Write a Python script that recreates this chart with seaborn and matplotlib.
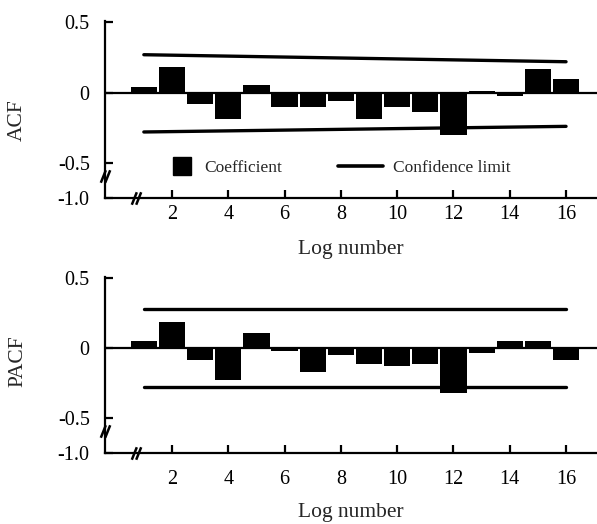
import numpy as np
import pandas as pd
import matplotlib
matplotlib.use("Agg")
import matplotlib.pyplot as plt
from matplotlib.lines import Line2D
from matplotlib.path import Path
from matplotlib.legend_handler import HandlerLine2D
import seaborn as sns

# ---- data ----
lags = [1, 2, 3, 4, 5, 6, 7, 8, 9, 10, 11, 12, 13, 14, 15, 16]
acf = [0.04, 0.18, -0.08, -0.19, 0.055, -0.10, -0.10, -0.06, -0.19, -0.10,
       -0.14, -0.30, 0.015, -0.025, 0.17, 0.10]
pacf = [0.05, 0.19, -0.085, -0.225, 0.11, -0.02, -0.17, -0.05, -0.11, -0.13,
        -0.11, -0.32, -0.035, 0.05, 0.05, -0.085]
conf_lags = [1, 16]
acf_upper = [0.27, 0.22]
acf_lower = [-0.28, -0.24]
pacf_upper = [0.28, 0.28]
pacf_lower = [-0.28, -0.28]
xticks = [2, 4, 6, 8, 10, 12, 14, 16]
yticks = [0.5, 0.0, -0.5, -1.0]
ytick_labels = ["0.5", "0", "-0.5", "-1.0"]
xlabel = "Log number"
legend_labels = ["Coefficient", "Confidence limit"]

sns.set_style("ticks")
plt.rcParams['font.family'] = ['Liberation Serif', 'DejaVu Serif']
plt.rcParams['axes.linewidth'] = 1.6


def fwd(y):
    y = np.asarray(y, dtype=float)
    return np.where(y >= -0.5, y, -0.5 + (y + 0.5) * 0.5)


def inv(z):
    z = np.asarray(z, dtype=float)
    return np.where(z >= -0.5, z, -0.5 + (z + 0.5) * 2.0)


break_marker = Path([(-0.75, -1), (0.05, 1), (-0.05, -1), (0.75, 1)],
                    [Path.MOVETO, Path.LINETO, Path.MOVETO, Path.LINETO])

fig = plt.figure(figsize=(5.97, 5.24), dpi=100)
W, H = 597, 524
ax1 = fig.add_axes([105 / W, 1 - 198 / H, 492 / W, 177 / H])
ax2 = fig.add_axes([105 / W, 1 - 453 / H, 492 / W, 176 / H])


def panel(ax, vals, up, lo, ylab, ylab_y, xpad, lpad):
    ax.set_yscale('function', functions=(fwd, inv))
    df = pd.DataFrame({"lag": lags, "val": vals})
    sns.barplot(data=df, x="lag", y="val", native_scale=True, width=0.93,
                color="black", saturation=1, linewidth=0, ax=ax)
    sns.lineplot(x=conf_lags, y=up, color="black", lw=2.4, ax=ax)
    sns.lineplot(x=conf_lags, y=lo, color="black", lw=2.4, ax=ax)
    ax.axhline(0, color="black", lw=1.6, zorder=1)
    ax.set_xlim(-0.38, 17.1)
    ax.set_ylim(-1.0, 0.51)
    ax.set_yticks(yticks)
    ax.set_yticklabels(ytick_labels)
    ax.set_xticks(xticks)
    ax.set_xticklabels([str(t) for t in xticks])
    ax.minorticks_off()
    ax.tick_params(axis='both', direction='in', length=6, width=1.6,
                   labelsize=14.5, colors='black')
    ax.tick_params(axis='y', pad=11)
    ax.tick_params(axis='x', pad=xpad)
    for s in ['top', 'right']:
        ax.spines[s].set_visible(False)
    ax.spines['left'].set_color('black')
    ax.spines['bottom'].set_color('black')
    ax.set_xlabel(xlabel, fontsize=15.5, labelpad=lpad)
    ax.set_ylabel(ylab, fontsize=15.5)
    ax.yaxis.set_label_coords(-0.158, ylab_y)
    # axis break marks
    ax.plot([0], [-0.69], transform=ax.get_yaxis_transform(),
            marker=break_marker, ms=9, mew=1.8, color='black', ls='none',
            clip_on=False, zorder=5)
    ax.plot([0.72], [0], transform=ax.get_xaxis_transform(),
            marker=break_marker, ms=9, mew=1.8, color='black', ls='none',
            clip_on=False, zorder=5)


panel(ax1, acf, acf_upper, acf_lower, "ACF", 0.44, 5, 11.5)
panel(ax2, pacf, pacf_upper, pacf_lower, "PACF", 0.52, 12, 10)


class RightMarkerHandler(HandlerLine2D):
    def get_xdata(self, legend, xdescent, ydescent, width, height, fontsize):
        end = -xdescent + width
        xdata = np.array([end - 1.44 * fontsize, end])
        return xdata, np.array([end - 0.72 * fontsize])


sq = Line2D([], [], marker='s', ls='none', color='black', markersize=13)
ln = Line2D([], [], color='black', lw=2.6)
ax1.legend([sq, ln], legend_labels, ncol=2, frameon=False, loc='center',
           bbox_to_anchor=(0.457, 0.17), fontsize=12.5, handlelength=2.6,
           columnspacing=3.2, handletextpad=0.58,
           handler_map={sq: RightMarkerHandler(numpoints=1)})

fig.savefig("out.png", dpi=100, facecolor="white")
